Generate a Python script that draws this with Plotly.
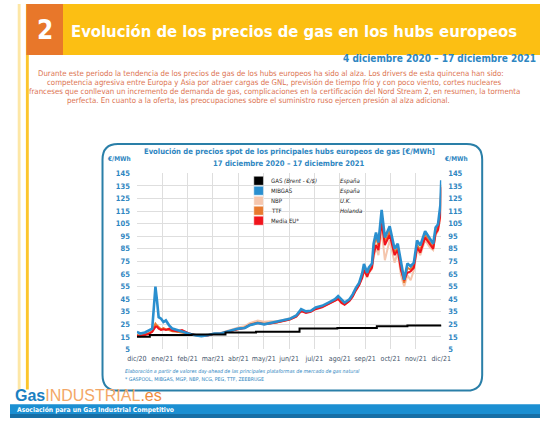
import pandas as pd
import plotly.graph_objects as go

# fechas de los puntos (4 dic 2020 - 17 dic 2021)
fechas = ["2020-12-04", "2020-12-08", "2020-12-14", "2020-12-19", "2020-12-23", "2020-12-25",
          "2020-12-27", "2020-12-29", "2020-12-31", "2021-01-03", "2021-01-06", "2021-01-09",
          "2021-01-13", "2021-01-17", "2021-01-23", "2021-01-29", "2021-02-06", "2021-02-14",
          "2021-02-22", "2021-03-02", "2021-03-10", "2021-03-18", "2021-03-24", "2021-04-01",
          "2021-04-09", "2021-04-17", "2021-04-23", "2021-05-03", "2021-05-11", "2021-05-19",
          "2021-05-27", "2021-06-04", "2021-06-12", "2021-06-20", "2021-06-26", "2021-07-02",
          "2021-07-08", "2021-07-14", "2021-07-22", "2021-07-30", "2021-08-07", "2021-08-11",
          "2021-08-15", "2021-08-19", "2021-08-25", "2021-08-29", "2021-09-02", "2021-09-06",
          "2021-09-10", "2021-09-12", "2021-09-16", "2021-09-18", "2021-09-22", "2021-09-24",
          "2021-09-27", "2021-09-30", "2021-10-04", "2021-10-08", "2021-10-14", "2021-10-20",
          "2021-10-24", "2021-10-28", "2021-11-01", "2021-11-05", "2021-11-09", "2021-11-13",
          "2021-11-17", "2021-11-21", "2021-11-27", "2021-12-03", "2021-12-07", "2021-12-10",
          "2021-12-13", "2021-12-16", "2021-12-17"]

mibgas = [19.0, 17.7, 18.5, 20.3, 21.6, 38.0, 55.0, 43.6, 30.7, 29.4,
          26.8, 28.1, 24.2, 21.6, 20.3, 19.0, 17.7, 16.4, 15.6, 16.4,
          17.7, 17.7, 19.0, 20.3, 21.6, 22.1, 24.2, 26.0, 25.0, 26.0,
          26.8, 28.1, 29.4, 32.0, 37.1, 35.3, 35.8, 38.4, 39.7, 42.3,
          44.9, 47.5, 44.9, 42.3, 44.9, 48.8, 54.0, 57.9, 66.0, 73.0,
          66.0, 70.0, 73.4, 89.0, 98.0, 90.0, 116.0, 94.0, 103.0, 85.0,
          89.0, 73.4, 60.4, 73.4, 71.0, 74.0, 91.6, 87.7, 99.0, 93.0,
          89.0, 102.0, 104.5, 120.0, 139.5]

nbp = [16.5, 16.0, 17.0, 18.0, 19.0, 21.0, 24.0, 23.5, 22.5, 21.0,
       21.5, 21.0, 21.0, 20.0, 19.5, 19.0, 17.8, 16.6, 15.9, 16.5,
       17.8, 18.2, 19.5, 21.0, 22.5, 23.5, 26.0, 28.0, 27.0, 27.5,
       27.5, 28.5, 29.8, 32.0, 36.0, 35.0, 35.5, 38.0, 39.0, 41.5,
       44.0, 46.0, 43.0, 41.0, 44.0, 47.5, 52.0, 56.0, 63.0, 68.0,
       62.0, 66.0, 69.0, 78.0, 86.0, 80.0, 100.0, 76.0, 92.0, 74.0,
       82.0, 64.0, 55.0, 64.0, 60.0, 68.0, 84.0, 80.0, 92.0, 86.0,
       84.0, 96.0, 99.0, 110.0, 132.0]

ttf = [16.5, 16.0, 17.0, 18.0, 19.5, 22.0, 25.5, 24.0, 22.5, 21.0,
       22.0, 21.0, 20.5, 19.5, 19.0, 18.5, 17.5, 16.5, 15.8, 16.3,
       17.5, 17.8, 18.8, 20.0, 21.5, 22.5, 24.8, 26.5, 25.5, 26.0,
       26.5, 27.8, 29.0, 31.5, 36.0, 34.8, 35.5, 37.8, 39.0, 41.5,
       44.0, 46.5, 43.5, 41.0, 44.0, 47.5, 53.0, 57.0, 64.5, 71.0,
       64.0, 68.0, 72.0, 85.0, 95.0, 87.0, 112.0, 90.0, 99.0, 82.0,
       86.0, 70.0, 58.0, 70.0, 68.5, 72.0, 88.0, 84.0, 96.0, 90.0,
       86.0, 99.0, 102.0, 116.0, 136.0]

media_eu = [16.0, 15.5, 16.5, 17.5, 19.0, 21.0, 23.0, 23.0, 21.5, 20.5,
            21.0, 20.5, 21.5, 20.0, 19.5, 20.5, 18.0, 16.5, 15.8, 16.2,
            17.4, 17.7, 18.8, 20.0, 21.3, 22.0, 24.5, 26.0, 25.0, 25.6,
            26.4, 27.6, 28.8, 31.0, 35.5, 34.0, 35.0, 37.0, 38.5, 41.0,
            43.5, 45.0, 42.0, 40.5, 43.5, 47.0, 52.0, 56.0, 62.0, 68.0,
            63.0, 66.0, 70.0, 80.0, 88.0, 84.0, 106.0, 88.0, 96.0, 80.0,
            84.0, 68.0, 60.0, 66.0, 67.0, 70.0, 86.0, 82.0, 94.0, 88.0,
            85.0, 97.0, 100.0, 112.0, 134.0]

# GAS (Brent) - escalones
fechas_brent = ["2020-12-04", "2020-12-20", "2021-02-10", "2021-03-24", "2021-05-01",
                "2021-06-24", "2021-08-10", "2021-09-28", "2021-11-05", "2021-12-17"]
brent = [15.2, 16.5, 16.9, 18.6, 19.0, 21.6, 22.0, 23.4, 24.0, 24.6]

meses = ["dic/20", "ene/21", "feb/21", "mar/21", "abr/21", "may/21", "jun/21",
         "jul/21", "ago/21", "sep/21", "oct/21", "nov/21", "dic/21"]

leyenda = ["GAS <i>(Brent - €/$)</i>", "MIBGAS", "NBP", "TTF", "Media EU*"]
paises = ["España", "España", "U.K.", "Holanda", ""]
colores = ["#000000", "#2a8fcf", "#f5c6ad", "#e8792e", "#f0141c"]

W, H = 550, 423
NARROW = "DejaVu Sans Condensed, Liberation Sans, sans-serif"
AZUL = "#2e86c1"


def fx(p):
    return p / W


def fy(p):
    return 1 - p / H


def caja_redondeada(x0, y0, x1, y1, r):
    pts = [
        f"M {fx(x0 + r)},{fy(y0)}",
        f"L {fx(x1 - r)},{fy(y0)}",
        f"Q {fx(x1)},{fy(y0)} {fx(x1)},{fy(y0 + r)}",
        f"L {fx(x1)},{fy(y1 - r)}",
        f"Q {fx(x1)},{fy(y1)} {fx(x1 - r)},{fy(y1)}",
        f"L {fx(x0 + r)},{fy(y1)}",
        f"Q {fx(x0)},{fy(y1)} {fx(x0)},{fy(y1 - r)}",
        f"L {fx(x0)},{fy(y0 + r)}",
        f"Q {fx(x0)},{fy(y0)} {fx(x0 + r)},{fy(y0)} Z",
    ]
    return " ".join(pts)


x = pd.to_datetime(fechas)
ticks = pd.date_range(fechas[0], fechas[-1], periods=len(meses))

fig = go.Figure()
fig.add_trace(go.Scatter(x=x, y=nbp, mode="lines", line=dict(color=colores[2], width=2)))
fig.add_trace(go.Scatter(x=x, y=ttf, mode="lines", line=dict(color=colores[3], width=2)))
fig.add_trace(go.Scatter(x=x, y=media_eu, mode="lines", line=dict(color=colores[4], width=2)))
fig.add_trace(go.Scatter(x=x, y=mibgas, mode="lines", line=dict(color=colores[1], width=2.6)))
fig.add_trace(go.Scatter(x=pd.to_datetime(fechas_brent), y=brent, mode="lines", yaxis="y2",
                         line=dict(color="#000000", width=2, shape="hv")))

eje_y = dict(range=[5, 145], tick0=5, dtick=10, showgrid=True, gridcolor="#dedede",
             gridwidth=1, zeroline=False, showline=False, ticks="", ticklabelstandoff=6,
             tickfont=dict(family=NARROW, size=7.5, color=AZUL, weight="bold"))

fig.update_layout(
    width=W, height=H,
    margin=dict(l=0, r=0, t=0, b=0),
    paper_bgcolor="white", plot_bgcolor="rgba(0,0,0,0)",
    showlegend=False,
    xaxis=dict(domain=[fx(131.7), fx(447.5)], range=[ticks[0], ticks[-1]],
               tickvals=list(ticks), ticktext=meses, tickangle=0, showgrid=True,
               gridcolor="#dedede", showline=False, zeroline=False, ticks="", ticklabelstandoff=4,
               tickfont=dict(family=NARROW, size=7, color="#44546a")),
    yaxis=dict(domain=[fy(353), fy(173)], side="left", **eje_y),
    yaxis2=dict(overlaying="y", side="right", **eje_y),
)
fig.update_yaxes(showgrid=False, selector=dict(overlaying="y"))

shapes = [
    # lineas amarillas laterales
    dict(type="rect", x0=fx(8), x1=fx(11), y0=fy(394), y1=fy(0), fillcolor="#fde7a6", line_width=0),
    dict(type="rect", x0=fx(16.5), x1=fx(19.5), y0=fy(394), y1=fy(0), fillcolor="#fcc52c", line_width=0),
    # cabecera
    dict(type="rect", x0=fx(17), x1=fx(550), y0=fy(52), y1=fy(0), fillcolor="#fcbf13", line_width=0),
    dict(type="rect", x0=fx(17), x1=fx(55), y0=fy(52), y1=fy(0), fillcolor="#e8772a", line_width=0),
    # pie
    dict(type="rect", x0=0, x1=1, y0=fy(423), y1=fy(409), fillcolor="#1b8fd2", line_width=0),
    dict(type="rect", x0=0, x1=1, y0=fy(423), y1=fy(419), fillcolor="#176fa6", line_width=0),
    # marco del gráfico
    dict(type="path", path=caja_redondeada(96, 143, 490, 395, 16), line=dict(color="#2a7fa8", width=2),
         layer="below"),
]

annotations = [
    dict(text="<b>2</b>", x=fx(36), y=fy(27), font=dict(family=NARROW, size=26, color="white")),
    dict(text="<b>Evolución de los precios de gas en los hubs europeos</b>", x=fx(61), y=fy(28),
         xanchor="left", font=dict(family=NARROW, size=16.5, color="white")),
    dict(text="<b>4 diciembre 2020 – 17 diciembre 2021</b>", x=fx(548), y=fy(56), xanchor="right",
         font=dict(family=NARROW, size=10, color=AZUL)),
]

parrafo = [
    ("Durante este periodo la tendencia de los precios de gas de los hubs europeos ha sido al alza. "
     "Los drivers de esta quincena han sido:", 271, 71),
    ("competencia agresiva entre Europa y Asia por atraer cargas de GNL, previsión de tiempo frío y con "
     "poco viento, cortes nucleares", 274, 80),
    ("franceses que conllevan un incremento de demanda de gas, complicaciones en la certificación del "
     "Nord Stream 2, en resumen, la tormenta", 274, 89.5),
    ("perfecta. En cuanto a la oferta, las preocupaciones sobre el suministro ruso ejercen presión al "
     "alza adicional.", 258, 99),
]
for texto, cx, cy in parrafo:
    annotations.append(dict(text=texto, x=fx(cx), y=fy(cy),
                            font=dict(family=NARROW, size=7.8, color="#dc7350")))

annotations += [
    dict(text="<b>Evolución de precios spot de los principales hubs europeos de gas [€/MWh]</b>",
         x=fx(290), y=fy(151), font=dict(family=NARROW, size=7.6, color=AZUL)),
    dict(text="<b>17 diciembre 2020 – 17 diciembre 2021</b>", x=fx(290), y=fy(162.5),
         font=dict(family=NARROW, size=7.6, color=AZUL)),
    dict(text="<b>€/MWh</b>", x=fx(113), y=fy(158), font=dict(family=NARROW, size=6.5, color=AZUL)),
    dict(text="<b>€/MWh</b>", x=fx(463), y=fy(158), font=dict(family=NARROW, size=6.5, color=AZUL)),
    dict(text="<i>Elaboración a partir de valores day-ahead de las principales plataformas de mercado "
              "de gas natural</i>", x=fx(117), y=fy(375.5), xanchor="left",
         font=dict(family=NARROW, size=5.2, color=AZUL)),
    dict(text="* GASPOOL, MIBGAS, MGP, NBP, NCG, PEG, TTF, ZEEBRUGE", x=fx(117), y=fy(383),
         xanchor="left", font=dict(family=NARROW, size=5.2, color=AZUL)),
    dict(text="<b><span style='color:#1a7fc1'>Gas</span></b>"
              "<span style='color:#f3a766'>INDUSTRIAL</span><span style='color:#ee8a3c'>.es</span>",
         x=fx(3), y=fy(400), xanchor="left", font=dict(family="Liberation Sans, sans-serif", size=16)),
    dict(text="<b>Asociación para un Gas Industrial Competitivo</b>", x=fx(5), y=fy(414.5),
         xanchor="left", font=dict(family=NARROW, size=6.7, color="white")),
]

# leyenda dibujada como en el original (cuadros)
for i, (nombre, pais, color) in enumerate(zip(leyenda, paises, colores)):
    top = 176 + i * 10.2
    shapes.append(dict(type="rect", x0=fx(253), x1=fx(263), y0=fy(top + 9.2), y1=fy(top),
                       fillcolor=color, line=dict(color="white", width=0.5), layer="above"))
    annotations.append(dict(text=nombre, x=fx(269), y=fy(top + 4.6), xanchor="left",
                            font=dict(family=NARROW, size=6, color="#222222")))
    if pais:
        annotations.append(dict(text=f"<i>{pais}</i>", x=fx(340.5), y=fy(top + 4.6), xanchor="left",
                                font=dict(family=NARROW, size=6, color="#222222")))

for a in annotations:
    a.setdefault("xanchor", "center")
    a.setdefault("yanchor", "middle")
    a.update(xref="paper", yref="paper", showarrow=False)
for s in shapes:
    s.update(xref="paper", yref="paper")

fig.update_layout(shapes=shapes, annotations=annotations)
fig.write_html("out.html", config={"displayModeBar": False},
               post_script="document.body.style.margin='0';document.body.style.overflow='hidden';")
